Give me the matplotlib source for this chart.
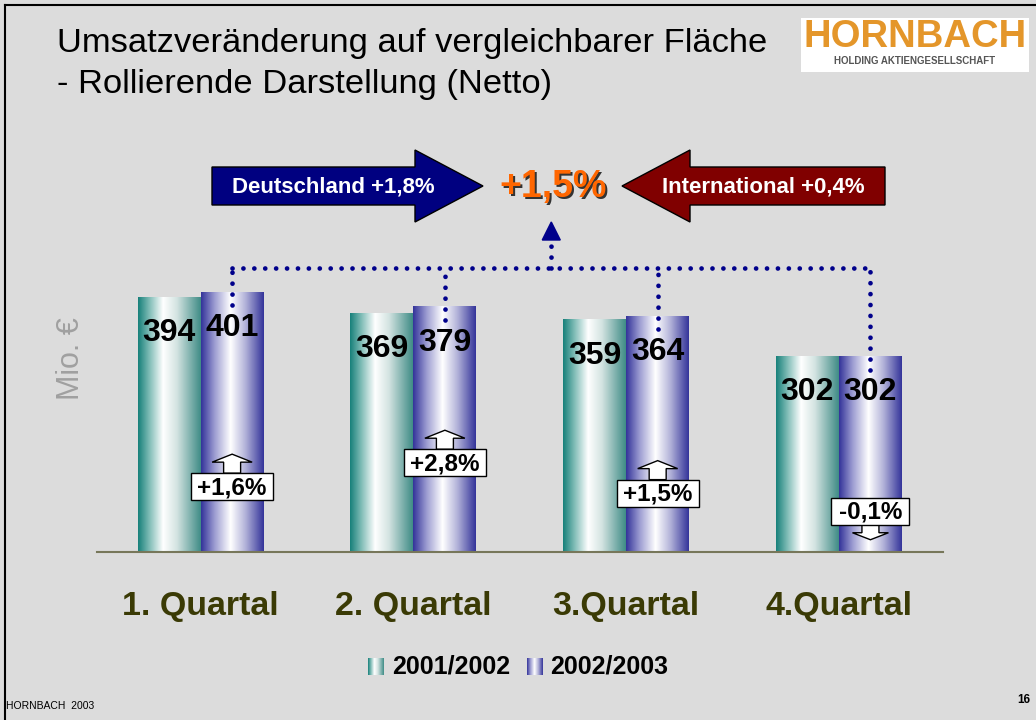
import numpy as np
import matplotlib.pyplot as plt
from matplotlib.colors import LinearSegmentedColormap
from matplotlib.patches import Polygon, Rectangle

plt.rcParams['font.family'] = ['Liberation Sans', 'DejaVu Sans']

# ---------------------------
# Data
# ---------------------------
quarters = ["1. Quartal", "2. Quartal", "3.Quartal", "4.Quartal"]
sales_0102 = [394, 369, 359, 302]
sales_0203 = [401, 379, 364, 302]
changes = ["+1,6%", "+2,8%", "+1,5%", "-0,1%"]
series_names = ["2001/2002", "2002/2003"]
total_change = "+1,5%"
split_labels = ["Deutschland +1,8%", "International +0,4%"]

# layout helpers (data units of the bar axes)
box_y = [101, 138, 91, 63]
link_level = 439

BG = '#dcdcdc'
W, H = 1036, 720

fig = plt.figure(figsize=(W / 100, H / 100), dpi=100, facecolor=BG)
ax = fig.add_axes([97 / W, 168 / H, 846 / W, 422 / H])
ax.set_facecolor('none')

teal = LinearSegmentedColormap.from_list(
    'teal', [(0, '#17807a'), (0.18, '#7fbcb6'), (0.4, '#ffffff'), (0.62, '#d3e3e1'), (1, '#3f8c86')])
purple = LinearSegmentedColormap.from_list(
    'purp', [(0, '#33339a'), (0.22, '#9e9ed2'), (0.47, '#ffffff'), (0.7, '#b5b5da'), (1, '#34349a')])
grad = np.linspace(0, 1, 256)[None, :]

# ---------------------------
# Bars with gradient fill
# ---------------------------
x = np.arange(len(quarters))
w = 0.296
bars1 = ax.bar(x - w / 2, sales_0102, w, color='none')
bars2 = ax.bar(x + w / 2, sales_0203, w, color='none')
for bars, cmap in ((bars1, teal), (bars2, purple)):
    for r in bars:
        ax.imshow(grad, cmap=cmap, aspect='auto', zorder=2,
                  extent=[r.get_x(), r.get_x() + r.get_width(), 0, r.get_height()])
        ax.annotate(f"{int(r.get_height())}", (r.get_x() + r.get_width() / 2, r.get_height()),
                    xytext=(0, -15), textcoords='offset points', ha='center', va='top',
                    fontsize=23, fontweight='bold', zorder=4)

ax.set_xlim(-0.487, 3.489)
ax.set_ylim(0, 422 / 0.647)

# dotted connectors
dot = dict(color='#00008b', lw=3.4, linestyle=(0, (0.01, 2.3)), dash_capstyle='round',
           zorder=3, clip_on=False)
cx = x + w / 2
for xi, v in zip(cx, sales_0203):
    ax.plot([xi, xi], [v - 20, link_level], **dot)
ax.plot([cx[0], cx[-1]], [link_level, link_level], **dot)
mid = (cx[0] + cx[-1]) / 2
ax.plot([mid, mid], [link_level, 482], **dot)

ax.set_xticks(x)
ax.set_xticklabels(quarters, fontsize=24.5, fontweight='bold', color='#3a3a05')
ax.tick_params(axis='x', length=0, pad=28)
ax.set_yticks([])
for s in ('top', 'right', 'left'):
    ax.spines[s].set_visible(False)
ax.spines['bottom'].set_color('#77775a')
ax.spines['bottom'].set_linewidth(1.5)


def to_px(xd, yd):
    dx, dy = ax.transData.transform((xd, yd))
    return dx, H - dy


# ---------------------------
# Decoration layer (pixel coords)
# ---------------------------
deco = fig.add_axes([0, 0, 1, 1])
deco.axis('off')

# change boxes with arrows
for xi, yb, lab in zip(cx, box_y, changes):
    px, py = to_px(xi, yb)
    bw = 78 if lab.startswith('-') else 82
    bh = 27
    top, bot = py - bh / 2, py + bh / 2
    if lab.startswith('-'):
        pts = [(px - 8.5, bot), (px - 8.5, bot + 8), (px - 18, bot + 8), (px, bot + 15),
               (px + 18, bot + 8), (px + 8.5, bot + 8), (px + 8.5, bot)]
    else:
        pts = [(px - 8.5, top), (px - 8.5, top - 11), (px - 20, top - 11), (px, top - 19),
               (px + 20, top - 11), (px + 8.5, top - 11), (px + 8.5, top)]
    deco.add_patch(Polygon(pts, closed=True, fc='white', ec='black', lw=1, zorder=3))
    deco.add_patch(Rectangle((px - bw / 2, top), bw, bh, fc='white', ec='black', lw=1, zorder=4))
    deco.text(px, py + 1, lab, ha='center', va='center', fontsize=17.5, fontweight='bold', zorder=5)

# central up arrow
mx, _ = to_px(mid, 0)
deco.add_patch(Polygon([(mx - 9, 240), (mx, 222), (mx + 9, 240)], closed=True, fc='#00008b', ec='#00008b'))

# big arrows
blue = [(212, 167), (415, 167), (415, 150), (483, 186), (415, 222), (415, 205), (212, 205)]
red = [(885, 167), (690, 167), (690, 150), (622, 186), (690, 222), (690, 205), (885, 205)]
deco.add_patch(Polygon(blue, closed=True, fc='#000080', ec='black', lw=1))
deco.add_patch(Polygon(red, closed=True, fc='#800000', ec='black', lw=1))
deco.text(333, 187, split_labels[0], ha='center', va='center', color='white', fontsize=16, fontweight='bold')
deco.text(763, 187, split_labels[1], ha='center', va='center', color='white', fontsize=16, fontweight='bold')
deco.text(555, 189, total_change, ha='center', va='center', color='#333333', fontsize=27, fontweight='bold')
deco.text(553, 187, total_change, ha='center', va='center', color='#ff6600', fontsize=27, fontweight='bold')

# title
deco.text(57, 52, "Umsatzveränderung auf vergleichbarer Fläche", va='baseline', fontsize=24.8)
deco.text(57, 93, "- Rollierende Darstellung (Netto)", va='baseline', fontsize=24.8)

# logo
deco.add_patch(Rectangle((801, 18), 228, 54, fc='white', ec='none'))
deco.text(915, 47, "HORNBACH", ha='center', va='baseline', fontsize=27.5, fontweight='bold', color='#e4962a')
deco.text(915, 64, "HOLDING AKTIENGESELLSCHAFT", ha='center', va='baseline', fontsize=7,
          fontweight='bold', color='#555555')

# y label
deco.text(71, 359, "Mio. €", rotation=90, ha='center', va='center', fontsize=22, color='#a0a0a0')

# legend
deco.imshow(grad, cmap=teal, aspect='auto', extent=[368, 384, 675, 658])
deco.text(392, 667, series_names[0], va='center', fontsize=18, fontweight='bold')
deco.imshow(grad, cmap=purple, aspect='auto', extent=[527, 543, 675, 658])
deco.text(550, 667, series_names[1], va='center', fontsize=18, fontweight='bold')

# footer and frame
deco.text(6, 706, "HORNBACH  2003", va='center', fontsize=7.5)
deco.text(1030, 700, "16", ha='right', va='center', fontsize=8.5, fontweight='bold')
deco.plot([5, 5], [5, H], color='black', lw=1.5)
deco.plot([5, W], [5, 5], color='black', lw=1.5)

deco.set_xlim(0, W)
deco.set_ylim(H, 0)

fig.savefig('out.png', dpi=100, facecolor=BG)
